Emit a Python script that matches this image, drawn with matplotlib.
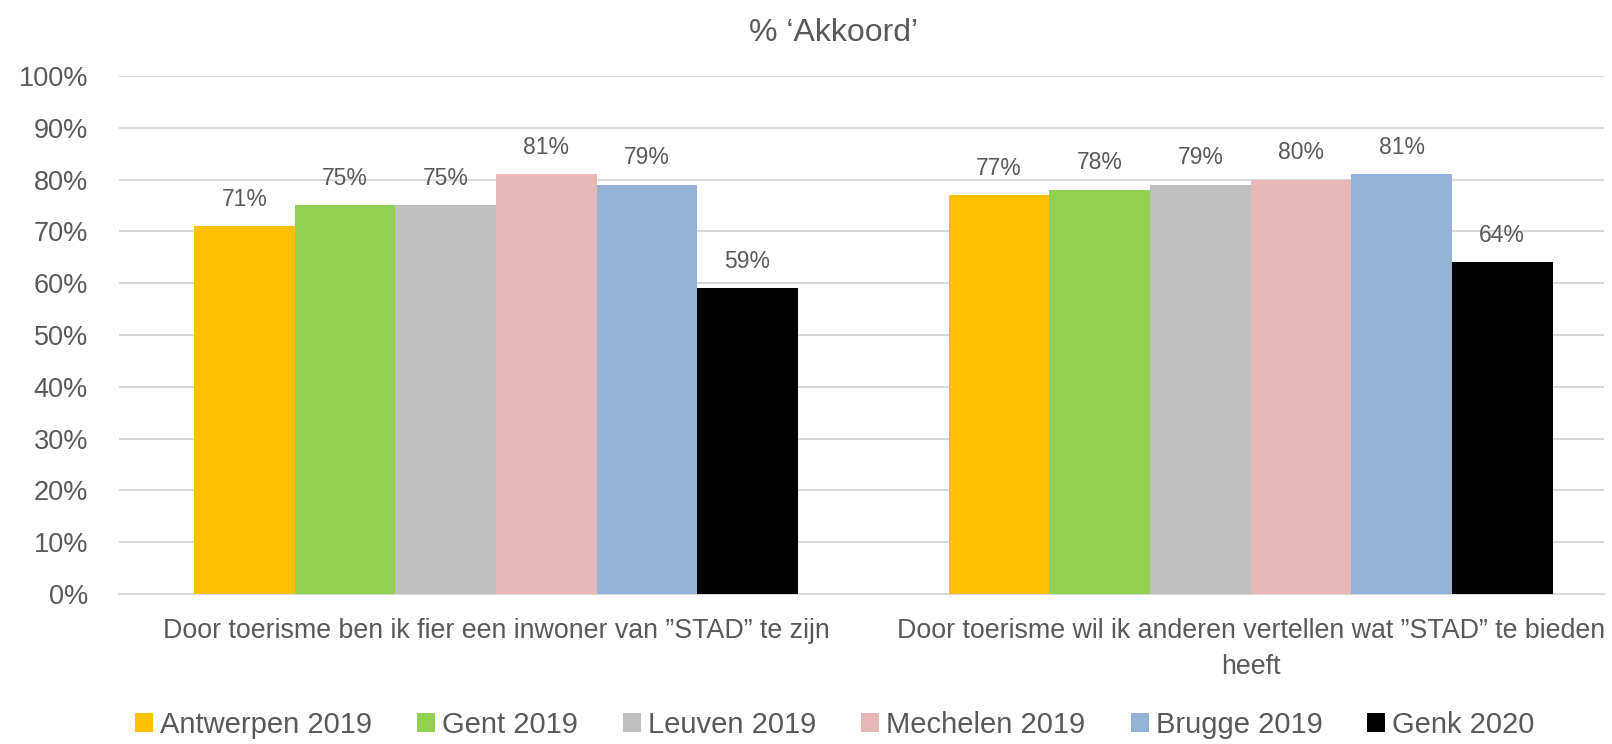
import matplotlib
matplotlib.use("Agg")
import matplotlib.pyplot as plt
from matplotlib.ticker import PercentFormatter
from matplotlib.patches import Patch
import numpy as np

categories = ['Door toerisme ben ik fier een inwoner van \u201dSTAD\u201d te zijn',
              'Door toerisme wil ik anderen vertellen wat \u201dSTAD\u201d te bieden\nheeft']
series = ['Antwerpen 2019', 'Gent 2019', 'Leuven 2019', 'Mechelen 2019', 'Brugge 2019', 'Genk 2020']
antwerpen = [71, 77]
gent = [75, 78]
leuven = [75, 79]
mechelen = [81, 80]
brugge = [79, 81]
genk = [59, 64]
values = [antwerpen, gent, leuven, mechelen, brugge, genk]
colors = ['#FFC000', '#92D050', '#BFBFBF', '#E6B9B8', '#95B3D7', '#000000']
yticks = list(range(0, 101, 10))

TXT = '#595959'
plt.rcParams['font.family'] = ['Liberation Sans', 'DejaVu Sans']

fig = plt.figure(figsize=(16.12, 7.44), dpi=100)
ax = fig.add_axes([0.0736, 0.2016, 0.995 - 0.0736, 0.898 - 0.2016])

n = len(series)
w = 0.8 / n
x = np.arange(len(categories))
for i, (s, v, c) in enumerate(zip(series, values, colors)):
    pos = x - 0.4 + w * (i + 0.5)
    bars = ax.bar(pos, v, width=w, color=c, label=s, zorder=3)
    for b, val in zip(bars, v):
        ax.text(b.get_x() + b.get_width() / 2, val + 3.0, f'{val}%',
                ha='center', va='bottom', fontsize=16.5, color=TXT)

ax.set_ylim(0, 100)
ax.set_xlim(-0.5, 1.468)
ax.set_yticks(yticks)
ax.yaxis.set_major_formatter(PercentFormatter(decimals=0))
ax.grid(axis='y', color='#D9D9D9', linewidth=1.5, zorder=0)
ax.set_axisbelow(True)
for sp in ['top', 'right', 'left']:
    ax.spines[sp].set_visible(False)
ax.spines['bottom'].set_color('#D9D9D9')
ax.spines['bottom'].set_linewidth(1.5)
ax.tick_params(axis='y', length=0, pad=22, labelsize=19.5, labelcolor=TXT)
ax.tick_params(axis='x', length=0, pad=17, labelsize=19.3, labelcolor=TXT)
ax.set_xticks(x)
ax.set_xticklabels(categories, linespacing=1.5)

fig.text(0.517, 0.955, '% \u2018Akkoord\u2019', ha='center', va='center',
         fontsize=23, color=TXT)

handles = [Patch(facecolor=c, edgecolor='none') for c in colors]
fig.legend(handles, series, loc='center', bbox_to_anchor=(0.518, 0.026), ncol=6,
           frameon=False, fontsize=21, labelcolor=TXT, handlelength=0.62,
           handleheight=0.62, handletextpad=0.24, columnspacing=1.54,
           borderpad=0, borderaxespad=0)

fig.savefig('out.png', dpi=100)
